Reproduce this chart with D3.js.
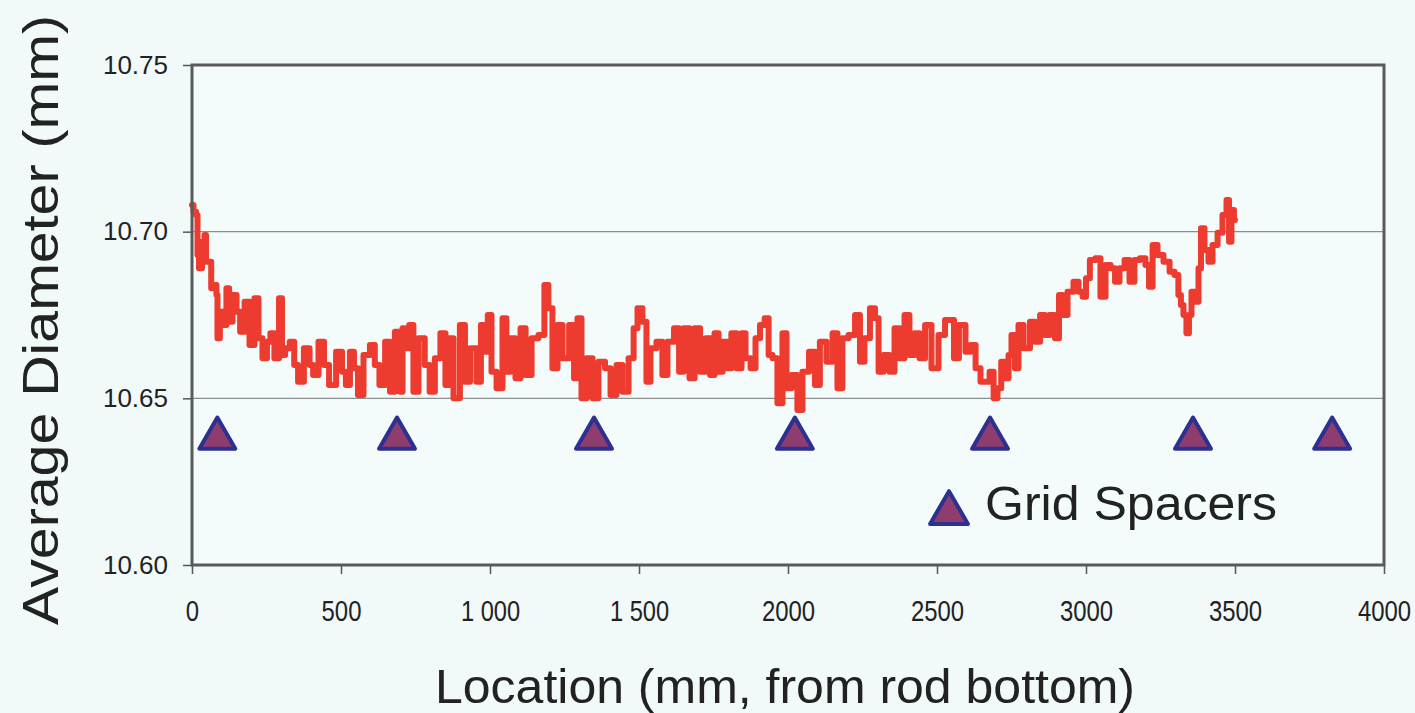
<!DOCTYPE html>
<html>
<head>
<meta charset="utf-8">
<script src="https://cdn.jsdelivr.net/npm/d3@7/dist/d3.min.js"></script>
<style>
  html, body { margin: 0; padding: 0; background: #f1f9f9; }
  svg { display: block; }
  text { font-family: "Liberation Sans", Arial, sans-serif; fill: #222; }
</style>
</head>
<body>
<svg id="chart" width="1415" height="713"></svg>
<script>
// ---- data ----
const locationMm = [0,10,17,20,27,40,44,50,62,67,80,84,87,100,110,121,128,144,155,168,185,201,218,228,245,258,268,285,299,305,320,336,350,362,389,400,413,436,450,470,497,510,523,537,550,564,587,607,620,638,658,671,691,705,708,720,738,748,772,790,805,825,842,859,866,889,909,923,943,966,973,985,1000,1010,1034,1050,1060,1077,1094,1111,1128,1151,1174,1191,1201,1218,1235,1252,1279,1285,1302,1312,1336,1352,1376,1396,1413,1436,1453,1477,1487,1503,1520,1530,1547,1570,1587,1604,1631,1638,1661,1678,1695,1715,1732,1745,1762,1772,1789,1805,1815,1839,1849,1866,1883,1899,1913,1930,1940,1956,1973,1990,2000,2023,2040,2057,2084,2097,2117,2141,2158,2174,2191,2215,2235,2248,2265,2285,2299,2309,2332,2349,2366,2383,2399,2416,2433,2450,2470,2493,2517,2537,2554,2560,2587,2604,2621,2638,2654,2668,2685,2695,2711,2720,2735,2745,2755,2768,2779,2802,2822,2836,2856,2869,2886,2906,2913,2930,2946,2970,2980,2997,3003,3023,3040,3057,3074,3091,3104,3121,3138,3154,3171,3191,3208,3215,3232,3248,3272,3289,3305,3315,3322,3332,3342,3349,3359,3372,3383,3389,3406,3416,3433,3450,3466,3477,3483,3493,3500];
const diameterMm = [10.708,10.706,10.705,10.693,10.689,10.697,10.699,10.691,10.691,10.683,10.684,10.681,10.668,10.676,10.672,10.683,10.673,10.681,10.676,10.670,10.679,10.666,10.680,10.668,10.662,10.667,10.6695,10.662,10.680,10.663,10.665,10.667,10.660,10.655,10.665,10.660,10.657,10.667,10.660,10.654,10.664,10.658,10.654,10.664,10.659,10.651,10.663,10.666,10.660,10.654,10.667,10.652,10.670,10.652,10.671,10.665,10.672,10.652,10.668,10.660,10.652,10.662,10.6695,10.654,10.668,10.650,10.672,10.655,10.665,10.655,10.672,10.664,10.675,10.658,10.653,10.674,10.658,10.668,10.656,10.671,10.657,10.668,10.669,10.684,10.677,10.659,10.672,10.662,10.672,10.656,10.674,10.650,10.662,10.650,10.661,10.659,10.651,10.660,10.652,10.662,10.671,10.677,10.673,10.655,10.665,10.667,10.657,10.667,10.671,10.658,10.671,10.656,10.671,10.658,10.668,10.657,10.6695,10.658,10.667,10.659,10.6695,10.659,10.6695,10.662,10.659,10.668,10.672,10.674,10.663,10.662,10.6485,10.6695,10.653,10.657,10.6465,10.658,10.664,10.654,10.667,10.661,10.6695,10.653,10.668,10.669,10.675,10.661,10.668,10.677,10.674,10.658,10.663,10.658,10.671,10.662,10.675,10.663,10.6695,10.662,10.672,10.659,10.669,10.6735,10.6735,10.662,10.672,10.664,10.666,10.659,10.655,10.655,10.658,10.650,10.653,10.661,10.656,10.663,10.669,10.659,10.672,10.665,10.673,10.667,10.675,10.669,10.675,10.668,10.681,10.675,10.682,10.685,10.682,10.6805,10.686,10.6915,10.692,10.6805,10.690,10.689,10.685,10.689,10.6915,10.685,10.6915,10.692,10.690,10.6835,10.696,10.693,10.691,10.688,10.687,10.681,10.678,10.675,10.6695,10.675,10.682,10.679,10.689,10.701,10.6945,10.691,10.696,10.6997,10.705,10.7095,10.697,10.7065,10.7035];
const spacerMm = [85, 688, 1349, 2023, 2678, 3359, 3826];
const spacerLevel = 10.638;
const xTicks = [0, 500, 1000, 1500, 2000, 2500, 3000, 3500, 4000];
const xTickLabels = ["0", "500", "1 000", "1 500", "2000", "2500", "3000", "3500", "4000"];
const yTicks = [10.60, 10.65, 10.70, 10.75];
const yTickLabels = ["10.60", "10.65", "10.70", "10.75"];
const xTitle = "Location (mm, from rod bottom)";
const yTitle = "Average Diameter (mm)";
const legendLabel = "Grid Spacers";

// ---- layout ----
const L = 192, R = 1384, T = 65, B = 565;
const svg = d3.select("#chart");
const x = d3.scaleLinear().domain([0, 4000]).range([L, R]);
const y = d3.scaleLinear().domain([10.60, 10.75]).range([B, T]);

svg.append("rect").attr("x", L).attr("y", T).attr("width", R - L).attr("height", B - T)
  .attr("fill", "#f3fbfb");

svg.append("g").selectAll("line").data([10.65, 10.70]).join("line")
  .attr("x1", L).attr("x2", R).attr("y1", d => y(d)).attr("y2", d => y(d))
  .attr("stroke", "#8a8f90").attr("stroke-width", 1.3);

const pts = locationMm.map((m, i) => [m, diameterMm[i]]);
svg.append("path").datum(pts)
  .attr("fill", "none").attr("stroke", "#ee3b2f").attr("stroke-width", 6)
  .attr("stroke-linejoin", "round").attr("stroke-linecap", "round")
  .attr("d", d3.line().x(d => x(d[0])).y(d => y(d[1])).curve(d3.curveStep));

const tri = d3.symbol().type(d3.symbolTriangle).size(560);
svg.append("g").selectAll("path").data(spacerMm).join("path")
  .attr("d", tri)
  .attr("transform", d => `translate(${x(d)},${y(spacerLevel)})`)
  .attr("fill", "#8f3d6f").attr("stroke", "#2c3090").attr("stroke-width", 4)
  .attr("stroke-linejoin", "round");

const xAxis = d3.axisBottom(x).tickValues(xTicks)
  .tickFormat((d, i) => xTickLabels[i]).tickSize(9).tickPadding(26).tickSizeOuter(0);
const gx = svg.append("g").attr("transform", `translate(0,${B})`).call(xAxis);
gx.select(".domain").remove();
gx.selectAll(".tick line").attr("stroke", "#555").attr("stroke-width", 1.5);
gx.selectAll(".tick text").attr("font-size", 29).attr("fill", "#222")
  .attr("font-family", "Liberation Sans, Arial, sans-serif")
  .attr("textLength", (d, i) => {
    const s = xTickLabels[i];
    return s.replace(/ /g, "").length * 13.3 + (s.split(" ").length - 1) * 6;
  })
  .attr("lengthAdjust", "spacingAndGlyphs");

const yAxis = d3.axisLeft(y).tickValues(yTicks)
  .tickFormat((d, i) => yTickLabels[i]).tickSize(9).tickPadding(15).tickSizeOuter(0);
const gy = svg.append("g").attr("transform", `translate(${L},0)`).call(yAxis);
gy.select(".domain").remove();
gy.selectAll(".tick line").attr("stroke", "#555").attr("stroke-width", 1.5);
gy.selectAll(".tick text").attr("font-size", 26).attr("fill", "#222")
  .attr("font-family", "Liberation Sans, Arial, sans-serif");

svg.append("rect").attr("x", L).attr("y", T).attr("width", R - L).attr("height", B - T)
  .attr("fill", "none").attr("stroke", "#5a5a5a").attr("stroke-width", 3);

svg.append("path").attr("d", d3.symbol().type(d3.symbolTriangle).size(620))
  .attr("transform", `translate(949,513)`)
  .attr("fill", "#8f3d6f").attr("stroke", "#2c3090").attr("stroke-width", 4)
  .attr("stroke-linejoin", "round");
svg.append("text").attr("x", 985).attr("y", 520).attr("font-size", 48)
  .attr("textLength", 292).attr("lengthAdjust", "spacingAndGlyphs")
  .text(legendLabel);

svg.append("text").attr("x", 785).attr("y", 703).attr("text-anchor", "middle")
  .attr("font-size", 48).attr("textLength", 700).attr("lengthAdjust", "spacingAndGlyphs")
  .text(xTitle);
svg.append("text").attr("transform", "translate(58,320) rotate(-90)")
  .attr("text-anchor", "middle").attr("font-size", 50)
  .attr("textLength", 610).attr("lengthAdjust", "spacingAndGlyphs")
  .text(yTitle);
</script>
</body>
</html>
